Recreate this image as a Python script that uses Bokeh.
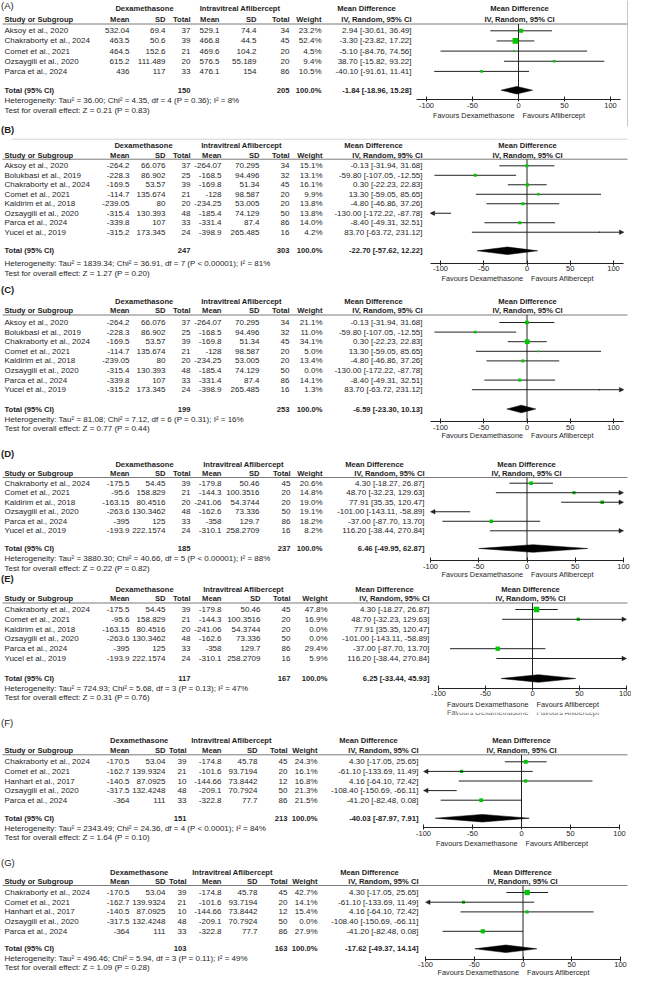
from bokeh.plotting import figure
from bokeh.models import Range1d, LinearAxis, FixedTicker, ColumnDataSource, Arrow, NormalHead
from bokeh.core.properties import value
from bokeh.embed import file_html
from bokeh.resources import INLINE

# ======================= DATA =======================
# Panel A
A_STUDY = ["Aksoy et al., 2020", "Chakraborty  et al., 2024", "Comet et al., 2021",
           "Ozsaygili et al., 2020", "Parca et al., 2024"]
A_DEX_MEAN = [532.04, 463.5, 464.5, 615.2, 436]
A_DEX_SD = [69.4, 50.6, 152.6, 111.489, 117]
A_DEX_N = [37, 39, 21, 20, 33]
A_AFL_MEAN = [529.1, 466.8, 469.6, 576.5, 476.1]
A_AFL_SD = [74.4, 44.5, 104.2, 55.189, 154]
A_AFL_N = [34, 45, 20, 20, 86]
A_WEIGHT = [23.2, 52.4, 4.5, 9.4, 10.5]
A_MD = [2.94, -3.30, -5.10, 38.70, -40.10]
A_LO = [-30.61, -23.82, -84.76, -15.82, -91.61]
A_HI = [36.49, 17.22, 74.56, 93.22, 11.41]
A_TOTAL_N = [150, 205]
A_TOTAL_MD = [-1.84, -18.96, 15.28]
A_HET = "Heterogeneity: Tau² = 36.00; Chi² = 4.35, df = 4 (P = 0.36); I² = 8%"
A_TEST = "Test for overall effect: Z = 0.21 (P = 0.83)"

# Panels B and C (same studies)
BC_STUDY = ["Aksoy et al., 2020", "Bolukbasi et al.,  2019", "Chakraborty  et al., 2024",
            "Comet et al., 2021", "Kaldirim et al., 2018", "Ozsaygili et al., 2020",
            "Parca et al., 2024", "Yucel et al., 2019"]
BC_DEX_MEAN = [-264.2, -228.3, -169.5, -114.7, -239.05, -315.4, -339.8, -315.2]
BC_DEX_SD = [66.076, 86.902, 53.57, 135.674, 80, 130.393, 107, 173.345]
BC_DEX_N = [37, 25, 39, 21, 20, 48, 33, 24]
BC_AFL_MEAN = [-264.07, -168.5, -169.8, -128, -234.25, -185.4, -331.4, -398.9]
BC_AFL_SD = [70.295, 94.496, 51.34, 98.587, 53.005, 74.129, 87.4, 265.485]
BC_AFL_N = [34, 32, 45, 20, 20, 50, 86, 16]
BC_MD = [-0.13, -59.80, 0.30, 13.30, -4.80, -130.00, -8.40, 83.70]
BC_LO = [-31.94, -107.05, -22.23, -59.05, -46.86, -172.22, -49.31, -63.72]
BC_HI = [31.68, -12.55, 22.83, 85.65, 37.26, -87.78, 32.51, 231.12]
B_WEIGHT = [15.1, 13.1, 16.1, 9.9, 13.8, 13.8, 14.0, 4.2]
B_TOTAL_N = [247, 303]
B_TOTAL_MD = [-22.70, -57.62, 12.22]
B_HET = "Heterogeneity: Tau² = 1839.34; Chi² = 36.91, df = 7 (P < 0.00001); I² = 81%"
B_TEST = "Test for overall effect: Z = 1.27 (P = 0.20)"
C_WEIGHT = [21.1, 11.0, 34.1, 5.0, 13.4, 0.0, 14.1, 1.3]
C_TOTAL_N = [199, 253]
C_TOTAL_MD = [-6.59, -23.30, 10.13]
C_HET = "Heterogeneity: Tau² = 81.08; Chi² = 7.12, df = 6 (P = 0.31); I² = 16%"
C_TEST = "Test for overall effect: Z = 0.77 (P = 0.44)"

# Panels D and E (same studies)
DE_STUDY = ["Chakraborty  et al., 2024", "Comet et al., 2021", "Kaldirim et al., 2018",
            "Ozsaygili et al., 2020", "Parca et al., 2024", "Yucel et al., 2019"]
DE_DEX_MEAN = [-175.5, -95.6, -163.15, -263.6, -395, -193.9]
DE_DEX_SD = [54.45, 158.829, 80.4516, 130.3462, 125, 222.1574]
DE_DEX_N = [39, 21, 20, 48, 33, 24]
DE_AFL_MEAN = [-179.8, -144.3, -241.06, -162.6, -358, -310.1]
DE_AFL_SD = [50.46, 100.3516, 54.3744, 73.336, 129.7, 258.2709]
DE_AFL_N = [45, 20, 20, 50, 86, 16]
DE_MD = [4.30, 48.70, 77.91, -101.00, -37.00, 116.20]
DE_LO = [-18.27, -32.23, 35.35, -143.11, -87.70, -38.44]
DE_HI = [26.87, 129.63, 120.47, -58.89, 13.70, 270.84]
D_WEIGHT = [20.6, 14.8, 19.0, 19.1, 18.2, 8.2]
D_TOTAL_N = [185, 237]
D_TOTAL_MD = [6.46, -49.95, 62.87]
D_HET = "Heterogeneity: Tau² = 3880.30; Chi² = 40.66, df = 5 (P < 0.00001); I² = 88%"
D_TEST = "Test for overall effect: Z = 0.22 (P = 0.82)"
E_WEIGHT = [47.8, 16.9, 0.0, 0.0, 29.4, 5.9]
E_TOTAL_N = [117, 167]
E_TOTAL_MD = [6.25, -33.44, 45.93]
E_HET = "Heterogeneity: Tau² = 724.93; Chi² = 5.68, df = 3 (P = 0.13); I² = 47%"
E_TEST = "Test for overall effect: Z = 0.31 (P = 0.76)"

# Panels F and G (same studies)
FG_STUDY = ["Chakraborty  et al., 2024", "Comet et al., 2021", "Hanhart et al., 2017",
            "Ozsaygili et al., 2020", "Parca et al., 2024"]
FG_DEX_MEAN = [-170.5, -162.7, -140.5, -317.5, -364]
FG_DEX_SD = [53.04, 139.9324, 87.0925, 132.4248, 111]
FG_DEX_N = [39, 21, 10, 48, 33]
FG_AFL_MEAN = [-174.8, -101.6, -144.66, -209.1, -322.8]
FG_AFL_SD = [45.78, 93.7194, 73.8442, 70.7924, 77.7]
FG_AFL_N = [45, 20, 12, 50, 86]
FG_MD = [4.30, -61.10, 4.16, -108.40, -41.20]
FG_LO = [-17.05, -133.69, -64.10, -150.69, -82.48]
FG_HI = [25.65, 11.49, 72.42, -66.11, 0.08]
F_WEIGHT = [24.3, 16.1, 16.8, 21.3, 21.5]
F_TOTAL_N = [151, 213]
F_TOTAL_MD = [-40.03, -87.97, 7.91]
F_HET = "Heterogeneity: Tau² = 2343.49; Chi² = 24.36, df = 4 (P < 0.0001); I² = 84%"
F_TEST = "Test for overall effect: Z = 1.64 (P = 0.10)"
G_WEIGHT = [42.7, 14.1, 15.4, 0.0, 27.9]
G_TOTAL_N = [103, 163]
G_TOTAL_MD = [-17.62, -49.37, 14.14]
G_HET = "Heterogeneity: Tau² = 496.46; Chi² = 5.94, df = 3 (P = 0.11); I² = 49%"
G_TEST = "Test for overall effect: Z = 1.09 (P = 0.28)"

TICKS = [-100, -50, 0, 50, 100]
COL_HEADERS = ["Mean", "SD", "Total", "Mean", "SD", "Total", "Weight"]
FAVOURS = ["Favours Dexamethasone", "Favours Aflibercept"]

PANELS = [
    dict(label="(A)", study=A_STUDY, dm=A_DEX_MEAN, ds=A_DEX_SD, dn=A_DEX_N, am=A_AFL_MEAN,
         asd=A_AFL_SD, an=A_AFL_N, w=A_WEIGHT, md=A_MD, lo=A_LO, hi=A_HI,
         tn=A_TOTAL_N, tmd=A_TOTAL_MD, het=A_HET, test=A_TEST),
    dict(label="(B)", study=BC_STUDY, dm=BC_DEX_MEAN, ds=BC_DEX_SD, dn=BC_DEX_N, am=BC_AFL_MEAN,
         asd=BC_AFL_SD, an=BC_AFL_N, w=B_WEIGHT, md=BC_MD, lo=BC_LO, hi=BC_HI,
         tn=B_TOTAL_N, tmd=B_TOTAL_MD, het=B_HET, test=B_TEST),
    dict(label="(C)", study=BC_STUDY, dm=BC_DEX_MEAN, ds=BC_DEX_SD, dn=BC_DEX_N, am=BC_AFL_MEAN,
         asd=BC_AFL_SD, an=BC_AFL_N, w=C_WEIGHT, md=BC_MD, lo=BC_LO, hi=BC_HI,
         tn=C_TOTAL_N, tmd=C_TOTAL_MD, het=C_HET, test=C_TEST),
    dict(label="(D)", study=DE_STUDY, dm=DE_DEX_MEAN, ds=DE_DEX_SD, dn=DE_DEX_N, am=DE_AFL_MEAN,
         asd=DE_AFL_SD, an=DE_AFL_N, w=D_WEIGHT, md=DE_MD, lo=DE_LO, hi=DE_HI,
         tn=D_TOTAL_N, tmd=D_TOTAL_MD, het=D_HET, test=D_TEST),
    dict(label="(E)", study=DE_STUDY, dm=DE_DEX_MEAN, ds=DE_DEX_SD, dn=DE_DEX_N, am=DE_AFL_MEAN,
         asd=DE_AFL_SD, an=DE_AFL_N, w=E_WEIGHT, md=DE_MD, lo=DE_LO, hi=DE_HI,
         tn=E_TOTAL_N, tmd=E_TOTAL_MD, het=E_HET, test=E_TEST),
    dict(label="(F)", study=FG_STUDY, dm=FG_DEX_MEAN, ds=FG_DEX_SD, dn=FG_DEX_N, am=FG_AFL_MEAN,
         asd=FG_AFL_SD, an=FG_AFL_N, w=F_WEIGHT, md=FG_MD, lo=FG_LO, hi=FG_HI,
         tn=F_TOTAL_N, tmd=F_TOTAL_MD, het=F_HET, test=F_TEST),
    dict(label="(G)", study=FG_STUDY, dm=FG_DEX_MEAN, ds=FG_DEX_SD, dn=FG_DEX_N, am=FG_AFL_MEAN,
         asd=FG_AFL_SD, an=FG_AFL_N, w=G_WEIGHT, md=FG_MD, lo=FG_LO, hi=FG_HI,
         tn=G_TOTAL_N, tmd=G_TOTAL_MD, het=G_HET, test=G_TEST),
]

# ======================= LAYOUT (page pixels) =======================
LAYOUT = [
    dict(lab=12.5, lab_bold=False, h1=16, h2=27, line=31.5, row0=38.3, dy=10.15, tot=97.7,
         het=108.3, test=118.3, axis=107, fav=122.7, zero=526, scale=0.92, bound=111,
         cols=[137, 173, 198, 227, 264, 297, 329, 419], dex_c=152, afl_c=247.5, mdh_c=374, frh_c=527),
    dict(lab=137.3, lab_bold=True, h1=153.3, h2=162.7, line=166.7, row0=173.3, dy=9.49, tot=258.3,
         het=271, test=281, axis=270.7, fav=285.7, zero=534.5, scale=0.865, bound=112,
         cols=[137, 173, 198, 229, 267, 297, 330, 430], dex_c=151, afl_c=249, mdh_c=381, frh_c=535),
    dict(lab=297, lab_bold=True, h1=309, h2=317.5, line=322.5, row0=330, dy=9.6, tot=416.5,
         het=426.7, test=436, axis=429, fav=443.3, zero=534.5, scale=0.865, bound=112,
         cols=[137, 173, 198, 229, 267, 297, 330, 430], dex_c=151.7, afl_c=249, mdh_c=381, frh_c=535),
    dict(lab=461, lab_bold=True, h1=471.7, h2=481, line=485, row0=490.7, dy=9.52, tot=556,
         het=566, test=575.5, axis=568.3, fav=582.3, zero=534.5, scale=0.965, bound=100,
         cols=[137, 173, 198, 229, 267, 298, 330, 432], dex_c=152, afl_c=251, mdh_c=382, frh_c=534),
    dict(lab=586, lab_bold=True, h1=597, h2=605.5, line=610.5, row0=617, dy=9.8, tot=686,
         het=695.7, test=705, axis=695.7, fav=711.7, zero=540, scale=0.94, bound=100,
         cols=[137, 173, 198, 229, 268, 298, 335, 437], dex_c=152, afl_c=251, mdh_c=392, frh_c=538),
    dict(lab=730, lab_bold=False, h1=748.3, h2=758.3, line=762.3, row0=769.3, dy=9.6, tot=825.7,
         het=835.7, test=845, axis=835, fav=850.7, zero=529, scale=0.98, bound=100,
         cols=[137, 173, 194, 229, 265, 295, 325, 426], dex_c=146.7, afl_c=239, mdh_c=376, frh_c=529),
    dict(lab=870, lab_bold=False, h1=880, h2=889.3, line=893, row0=900, dy=9.7, tot=956.3,
         het=966, test=975.3, axis=966.7, fav=980.3, zero=530.5, scale=0.975, bound=100,
         cols=[137, 173, 194, 229, 265, 295, 325, 426], dex_c=146.7, afl_c=240, mdh_c=377, frh_c=530),
]

FONT = "Liberation Sans"
FS = "8px"
FSB = "7.6px"
FS_FAV = "7.3px"
TXT = "#1e1e1e"
GREEN = "#00c800"
LINE = "#222222"
X0, X1, Y0, Y1 = 8, 639, 8, 984

p = figure(width=X1 - X0, height=Y1 - Y0, x_range=Range1d(X0, X1), y_range=Range1d(Y1, Y0),
           x_axis_location=None, y_axis_location=None, toolbar_location=None,
           output_backend="svg", min_border=0, outline_line_color=None)
p.grid.visible = False

ex, ey = {}, {}
for k, L in enumerate(LAYOUT):
    z, s = L["zero"], L["scale"]
    ex[f"md{k}"] = Range1d((X0 - z) / s, (X1 - z) / s)
    ey[f"r{k}"] = Range1d((Y1 - L["row0"]) / L["dy"], (Y0 - L["row0"]) / L["dy"])
p.extra_x_ranges = ex
p.extra_y_ranges = ey

groups = {}


def txt(x, y, s, align="left", bold=False, xr="default", yr="default", size=None, color=TXT, xoff=0):
    if size is None:
        size = FSB if bold else FS
    key = (xr, yr, align, bold, size, color, xoff)
    g = groups.setdefault(key, {"x": [], "y": [], "text": []})
    g["x"].append(x)
    g["y"].append(y)
    g["text"].append(s)


def ci(md, lo, hi):
    return f"{md:.2f} [{lo:.2f}, {hi:.2f}]"


# decorative frame lines of the original composite
p.segment(x0=[635], x1=[635], y0=[Y0], y1=[134], line_color="#c8c8c8", line_width=1)
p.segment(x0=[19], x1=[635], y0=[146.7], y1=[146.7], line_color="#d4d4d4", line_width=1)

# cut-off duplicate caption under panel E (screenshot artefact): text partly masked
LE = LAYOUT[4]
for xo, al, s in ((-4, "right", FAVOURS[0]), (4, "left", FAVOURS[1])):
    p.text(x=[0], y=[LE["fav"] + 8.3], text=[s], x_range_name="md4", text_align=al,
           text_baseline="middle", text_font=value(FONT), text_font_size=value(FS_FAV),
           text_color="#666666", x_offset=xo)
p.quad(left=[465], right=[610], top=[LE["fav"] + 3.9], bottom=[LE["fav"] + 8.6],
       fill_color="white", line_color=None)

for k, (P, L) in enumerate(zip(PANELS, LAYOUT)):
    mdr, rr = f"md{k}", f"r{k}"
    c = L["cols"]
    b = L["bound"]
    n = len(P["study"])

    # texts: header
    txt(8.5, L["lab"], P["label"], bold=L["lab_bold"], size="9.5px")
    txt(L["dex_c"], L["h1"], "Dexamethasone", "center", True)
    txt(L["afl_c"], L["h1"], "Intravitreal Aflibercept", "center", True)
    txt(L["mdh_c"], L["h1"], "Mean Difference", "center", True)
    txt(L["frh_c"], L["h1"], "Mean Difference", "center", True)
    txt(12, L["h2"], "Study or Subgroup", "left", True)
    for col, name in zip(c[:7], COL_HEADERS):
        txt(col, L["h2"], name, "right", True)
    txt(c[7], L["h2"], "IV, Random, 95% CI", "right", True)
    txt(L["frh_c"], L["h2"], "IV, Random, 95% CI", "center", True)

    # rows
    for i in range(n):
        txt(12, i, P["study"][i], yr=rr)
        vals = [P["dm"][i], P["ds"][i], P["dn"][i], P["am"][i], P["asd"][i], P["an"][i]]
        for col, v in zip(c[:6], vals):
            txt(col, i, str(v), "right", yr=rr)
        txt(c[6], i, f"{P['w'][i]:.1f}%", "right", yr=rr)
        txt(c[7], i, ci(P["md"][i], P["lo"][i], P["hi"][i]), "right", yr=rr)

    # totals
    txt(12, L["tot"], "Total (95% CI)", "left", True)
    txt(c[2], L["tot"], str(P["tn"][0]), "right", True)
    txt(c[5], L["tot"], str(P["tn"][1]), "right", True)
    txt(c[6], L["tot"], "100.0%", "right", True)
    txt(c[7], L["tot"], ci(*P["tmd"]), "right", True)
    txt(12, L["het"], P["het"])
    txt(12, L["test"], P["test"])
    txt(0, L["fav"], FAVOURS[0], "right", xr=mdr, xoff=-4, size=FS_FAV)
    txt(0, L["fav"], FAVOURS[1], "left", xr=mdr, xoff=4, size=FS_FAV)

    # header rule and zero line
    p.segment(x0=[10], x1=[635], y0=[L["line"]], y1=[L["line"]], line_color="#7a7a7a", line_width=1)
    p.segment(x0=[0], x1=[0], y0=[L["line"]], y1=[L["axis"]], x_range_name=mdr,
              line_color=LINE, line_width=1)

    # CI lines, arrows, markers
    seg = {"x0": [], "x1": [], "y": []}
    arr = {"x0": [], "x1": [], "y": []}
    mk = {"x": [], "y": [], "size": []}
    for i in range(n):
        w, md, lo, hi = P["w"][i], P["md"][i], P["lo"][i], P["hi"][i]
        if w <= 0:
            continue
        lo_c, hi_c = max(lo, -b), min(hi, b)
        if lo < -b and hi > b:
            mc = min(max(md, -b), b)
            for end in (-b, b):
                arr["x0"].append(mc); arr["x1"].append(end); arr["y"].append(i)
        elif lo < -b:
            arr["x0"].append(hi_c); arr["x1"].append(-b); arr["y"].append(i)
        elif hi > b:
            arr["x0"].append(lo_c); arr["x1"].append(b); arr["y"].append(i)
        else:
            seg["x0"].append(lo); seg["x1"].append(hi); seg["y"].append(i)
        if -b <= md <= b:
            mk["x"].append(md); mk["y"].append(i); mk["size"].append(max(1.6, 0.8 * w ** 0.5))
    if seg["y"]:
        p.segment(x0="x0", x1="x1", y0="y", y1="y", source=ColumnDataSource(seg),
                  x_range_name=mdr, y_range_name=rr, line_color=LINE, line_width=1)
    if arr["y"]:
        p.add_layout(Arrow(end=NormalHead(size=4.5, fill_color=LINE, line_color=LINE, line_width=0.5),
                           x_start="x0", y_start="y", x_end="x1", y_end="y",
                           source=ColumnDataSource(arr), x_range_name=mdr, y_range_name=rr,
                           line_color=LINE, line_width=1))
    p.scatter(x="x", y="y", size="size", marker="square", source=ColumnDataSource(mk),
              x_range_name=mdr, y_range_name=rr, fill_color=GREEN, line_color=None)

    # overall diamond
    tm, tl, th = P["tmd"]
    ty = L["tot"]
    p.patch(x=[tl, tm, th, tm], y=[ty, ty - 3.8, ty, ty + 3.8], x_range_name=mdr,
            fill_color="black", line_color="black", line_width=0.5)

    # axis
    ax = LinearAxis(x_range_name=mdr, fixed_location=L["axis"], ticker=FixedTicker(ticks=TICKS),
                    bounds=(-b, b))
    ax.major_label_overrides = {t: str(t) for t in TICKS}
    ax.major_tick_in = 3
    ax.major_tick_out = 2
    ax.minor_tick_in = 0
    ax.minor_tick_out = 0
    ax.major_label_standoff = 1
    ax.axis_line_color = LINE
    ax.major_tick_line_color = LINE
    ax.major_label_text_font = FONT
    ax.major_label_text_font_size = "7.5px"
    ax.major_label_text_color = TXT
    p.add_layout(ax, "below")

for (xr, yr, align, bold, size, color, xoff), g in groups.items():
    p.text(x="x", y="y", text="text", source=ColumnDataSource(g), x_range_name=xr, y_range_name=yr,
           text_align=align, text_baseline="middle", text_font=value(FONT),
           text_font_style="bold" if bold else "normal", text_font_size=value(size),
           text_color=color, x_offset=xoff)

open("out.html", "w").write(file_html(p, INLINE))
